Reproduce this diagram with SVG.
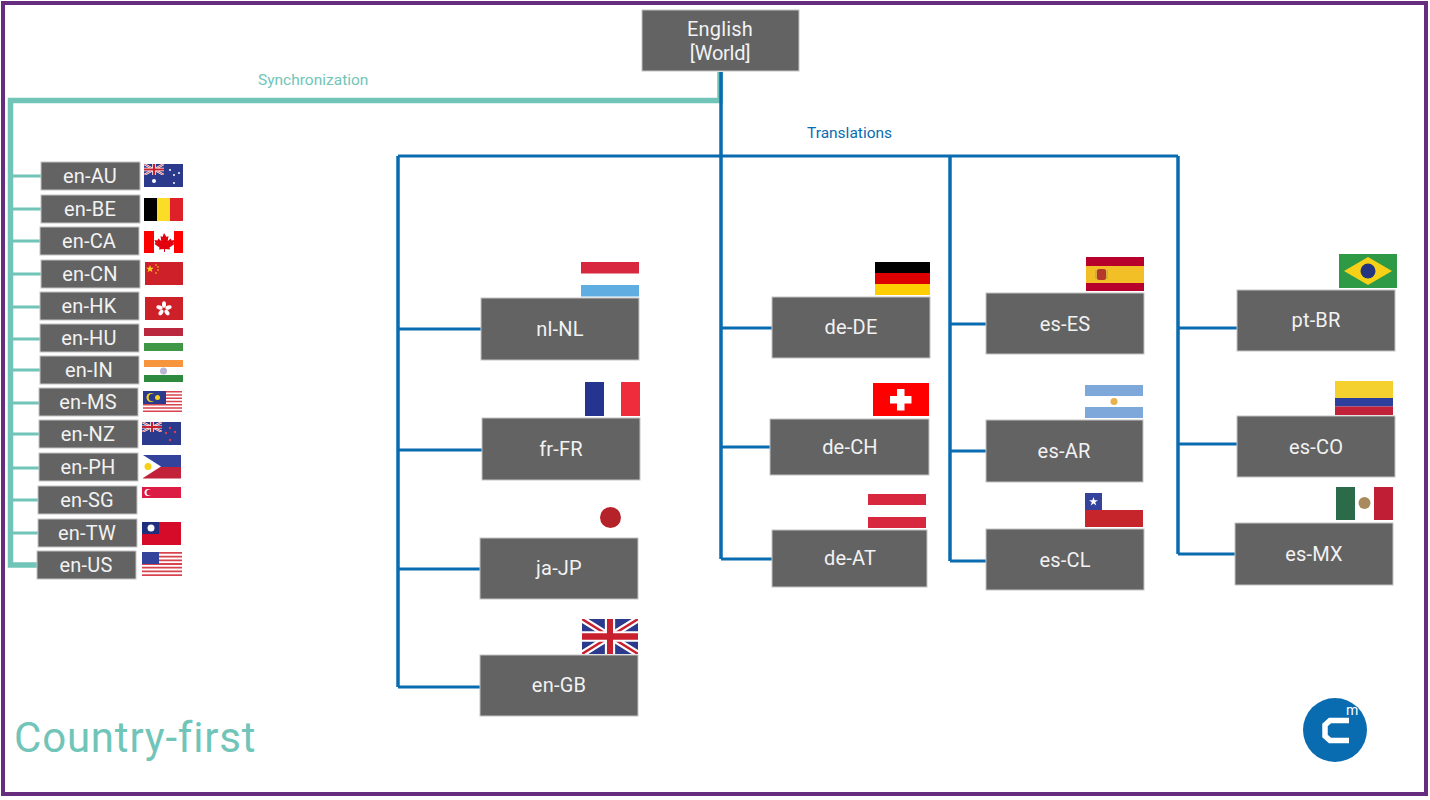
<svg xmlns="http://www.w3.org/2000/svg" width="1430" height="800" viewBox="0 0 1430 800">
<style>
.n{fill:#636363;stroke:#c4c4c4;stroke-width:1}
.t{font-family:Roboto,"Liberation Sans",sans-serif;font-size:20px;fill:#f2f2f2;text-anchor:middle;letter-spacing:.2px}
.tl{fill:none;stroke:#70c5b8;stroke-width:3}
.th{fill:none;stroke:#70c5b8;stroke-width:5.500}
.bl{fill:none;stroke:#0a6cb0;stroke-width:3}
.bv{fill:none;stroke:#0a6cb0;stroke-width:3.500}
.lab{font-family:Roboto,"Liberation Sans",sans-serif;font-size:15.500px}
</style>
<defs>
<symbol id="uj" viewBox="0 0 60 36" preserveAspectRatio="none">
<rect width="60" height="36" fill="#2b3a8c"/>
<path d="M0 0L60 36M60 0L0 36" stroke="#fff" stroke-width="7"/>
<path d="M0 0L60 36M60 0L0 36" stroke="#c8202f" stroke-width="2.500"/>
<path d="M30 0V36M0 18H60" stroke="#fff" stroke-width="11"/>
<path d="M30 0V36M0 18H60" stroke="#c8202f" stroke-width="6.500"/>
</symbol>
<symbol id="stripes" viewBox="0 0 40 13" preserveAspectRatio="none">
<rect width="40" height="13" fill="#fff"/>
<path d="M0 .5H40M0 2.500H40M0 4.500H40M0 6.500H40M0 8.500H40M0 10.500H40M0 12.500H40" stroke="#d8434f" stroke-width="1"/>
</symbol>
</defs>
<rect width="1430" height="800" fill="#fff"/>
<rect x="3" y="3" width="1423" height="791" fill="none" stroke="#662d7f" stroke-width="4"/>
<g id="connectors">
<path class="tl" d="M11 176H41M11 209H41M11 241H40M11 274H41M11 307H40M11 339H40M11 370H40M11 403H39M11 434H39M11 468H39M11 500H38M11 533H38"/>
<path class="th" d="M720 72V100.500H10.500V565H37"/>
<path class="bl" d="M398 687H480M398 329H481M398 450H482M398 569H480M721 328H772M721 447H770M721 559H772M950 561H986M950 324H986M950 451H986M1178 554H1235M1178 328H1237M1178 444H1237M398 156H1178"/>
<path class="bv" d="M721 72V559M398 156V687M950 156V561M1178 156V554"/>
</g>
<text class="lab" x="258" y="85" fill="#70c5b8">Synchronization</text>
<text class="lab" x="807" y="138" fill="#0a6cb0">Translations</text>
<text x="14" y="752" font-family="Roboto,'Liberation Sans',sans-serif" font-size="42" letter-spacing=".8" fill="#70c5b8">Country-first</text>

<g id="node-world"><rect class="n" x="642" y="10" width="157" height="61"/><text class="t" x="720" y="36">English</text><text class="t" x="720" y="60" style="letter-spacing:-.3px">[World]</text></g>

<g id="node-en-AU"><rect class="n" x="41" y="162" width="99" height="28"/><text class="t" x="90" y="183">en-AU</text>
<rect x="144" y="164" width="39" height="23" fill="#2b3a8c"/><use href="#uj" x="144" y="164" width="20" height="11"/><g fill="#fff"><circle cx="154" cy="181" r="2"/><circle cx="170" cy="170" r="1"/><circle cx="174" cy="175" r="1"/><circle cx="179" cy="173" r="1"/><circle cx="174" cy="183" r="1"/></g></g>
<g id="node-en-BE"><rect class="n" x="41" y="195" width="99" height="28"/><text class="t" x="90" y="216">en-BE</text>
<rect x="144" y="198" width="13" height="23" fill="#000"/><rect x="157" y="198" width="13" height="23" fill="#fbdc26"/><rect x="170" y="198" width="13" height="23" fill="#de2128"/></g>
<g id="node-en-CA"><rect class="n" x="40" y="227" width="99" height="28"/><text class="t" x="89" y="248">en-CA</text>
<rect x="144" y="231" width="10" height="22" fill="#f00"/><rect x="174" y="231" width="9" height="22" fill="#f00"/><path d="M164 233l2.500 4 2-1-.8 5 3-2.500.8 2 3-.5-1 3 1 1-5 3.500.5 2-5-.5v3h-1v-3l-5 .5.5-2-5-3.500 1-1-1-3 3 .5.800-2 3 2.500-.8-5 2 1z" fill="#e2000f"/></g>
<g id="node-en-CN"><rect class="n" x="41" y="260" width="99" height="28"/><text class="t" x="90" y="281">en-CN</text>
<rect x="145" y="262" width="38" height="23" fill="#ce2028"/><path d="M150 265l1 2.700 2.800.1-2.200 1.700.8 2.700-2.400-1.600-2.400 1.600.8-2.700-2.200-1.700 2.800-.1z" fill="#f7d117"/><g fill="#f7d117"><circle cx="156" cy="265" r=".8"/><circle cx="158" cy="267" r=".8"/><circle cx="158" cy="270" r=".8"/><circle cx="156" cy="273" r=".8"/></g></g>
<g id="node-en-HK"><rect class="n" x="40" y="292" width="99" height="28"/><text class="t" x="89" y="313">en-HK</text>
<rect x="145" y="297" width="38" height="23" fill="#ce2028"/><g fill="#fff"><ellipse cx="164" cy="304.500" rx="2" ry="3.200"/><ellipse cx="168.500" cy="307.500" rx="2" ry="3.200" transform="rotate(72 168.500 307.500)"/><ellipse cx="167" cy="312.500" rx="2" ry="3.200" transform="rotate(144 167 312.500)"/><ellipse cx="161" cy="312.500" rx="2" ry="3.200" transform="rotate(216 161 312.500)"/><ellipse cx="159.500" cy="307.500" rx="2" ry="3.200" transform="rotate(288 159.500 307.500)"/></g></g>
<g id="node-en-HU"><rect class="n" x="40" y="324" width="99" height="28"/><text class="t" x="89" y="345">en-HU</text>
<rect x="144" y="328" width="39" height="8" fill="#b9283f"/><rect x="144" y="343" width="39" height="8" fill="#409745"/></g>
<g id="node-en-IN"><rect class="n" x="40" y="356" width="99" height="28"/><text class="t" x="89" y="377">en-IN</text>
<rect x="144" y="360" width="39" height="7" fill="#f7953f"/><rect x="144" y="375" width="39" height="7" fill="#2e8a3f"/><circle cx="163.500" cy="371" r="3.500" fill="#b9b6d6"/></g>
<g id="node-en-MS"><rect class="n" x="39" y="388" width="99" height="28"/><text class="t" x="88" y="409">en-MS</text>
<use href="#stripes" x="143" y="391" width="39" height="21"/><rect x="143" y="391" width="23" height="13" fill="#2b3a8c"/><circle cx="151" cy="397.500" r="4.500" fill="#f7d117"/><circle cx="152.500" cy="397.500" r="3.800" fill="#2b3a8c"/><circle cx="157.500" cy="397.500" r="2.500" fill="#f7d117"/></g>
<g id="node-en-NZ"><rect class="n" x="39" y="420" width="99" height="28"/><text class="t" x="88" y="441">en-NZ</text>
<rect x="142" y="422" width="39" height="23" fill="#2b3a8c"/><use href="#uj" x="142" y="422" width="20" height="10"/><g fill="#d8434f"><circle cx="170" cy="428" r="1.200"/><circle cx="175" cy="432" r="1.200"/><circle cx="166" cy="433" r="1.200"/><circle cx="170" cy="440" r="1.200"/></g></g>
<g id="node-en-PH"><rect class="n" x="39" y="453" width="99" height="28"/><text class="t" x="88" y="474">en-PH</text>
<rect x="143" y="455" width="38" height="12" fill="#33439c"/><rect x="143" y="467" width="38" height="11.500" fill="#c2213a"/><path d="M143 455L161 466.500L143 478z" fill="#fff"/><circle cx="148" cy="466.500" r="3.500" fill="#f7d117"/></g>
<g id="node-en-SG"><rect class="n" x="38" y="486" width="99" height="28"/><text class="t" x="87" y="507">en-SG</text>
<rect x="142" y="487" width="39" height="11" fill="#dc1c44"/><circle cx="148" cy="492.500" r="3.500" fill="#fff"/><circle cx="149.500" cy="492.500" r="3" fill="#dc1c44"/></g>
<g id="node-en-TW"><rect class="n" x="38" y="519" width="99" height="28"/><text class="t" x="87" y="540">en-TW</text>
<rect x="142" y="522" width="39" height="23" fill="#d60b2a"/><rect x="142" y="522" width="17" height="12" fill="#1f2f7e"/><circle cx="151" cy="528" r="3.500" fill="#fff"/></g>
<g id="node-en-US"><rect class="n" x="37" y="551" width="99" height="28"/><text class="t" x="86" y="572">en-US</text>
<use href="#stripes" x="142" y="552" width="40" height="24"/><rect x="142" y="552" width="17" height="12" fill="#33439c"/></g>

<g id="node-nl-NL"><rect class="n" x="481" y="298" width="158" height="62"/><text class="t" x="560" y="336">nl-NL</text>
<rect x="581" y="262" width="58" height="11.500" fill="#d8283f"/><rect x="581" y="285" width="58" height="11.500" fill="#60ade2"/></g>
<g id="node-fr-FR"><rect class="n" x="482" y="418" width="158" height="62"/><text class="t" x="561" y="456">fr-FR</text>
<rect x="585" y="382" width="19" height="34" fill="#25358f"/><rect x="621" y="382" width="19" height="34" fill="#ee2c3c"/></g>
<g id="node-ja-JP"><rect class="n" x="480" y="538" width="158" height="61"/><text class="t" x="559" y="575">ja-JP</text>
<circle cx="610.500" cy="517.500" r="10.500" fill="#b5222a"/></g>
<g id="node-en-GB"><rect class="n" x="480" y="655" width="158" height="61"/><text class="t" x="559" y="692">en-GB</text>
<use href="#uj" x="582" y="619" width="56" height="35"/></g>

<g id="node-de-DE"><rect class="n" x="772" y="297" width="158" height="61"/><text class="t" x="851" y="334">de-DE</text>
<rect x="875" y="262" width="55" height="11" fill="#000"/><rect x="875" y="273" width="55" height="11" fill="#dd0000"/><rect x="875" y="284" width="55" height="11" fill="#ffce00"/></g>
<g id="node-de-CH"><rect class="n" x="770" y="419" width="159" height="56"/><text class="t" x="850" y="454">de-CH</text>
<rect x="873" y="383" width="56" height="33" fill="#f00"/><path d="M897 389h7.500v7h7v7.500h-7v7H897v-7h-7V396h7z" fill="#fff"/></g>
<g id="node-de-AT"><rect class="n" x="772" y="530" width="155" height="57"/><text class="t" x="850" y="565">de-AT</text>
<rect x="868" y="494" width="58" height="11" fill="#d8283f"/><rect x="868" y="517" width="58" height="11" fill="#d8283f"/></g>

<g id="node-es-ES"><rect class="n" x="986" y="293" width="158" height="61"/><text class="t" x="1065" y="331">es-ES</text>
<rect x="1086" y="257" width="58" height="34" fill="#b7002b"/><rect x="1086" y="266" width="58" height="17" fill="#f3bf26"/><rect x="1097" y="269" width="9" height="11" rx="2" fill="#b5392a"/><path d="M1096 270v9M1107 270v9" stroke="#b59a5c" stroke-width="1"/></g>
<g id="node-es-AR"><rect class="n" x="986" y="420" width="157" height="62"/><text class="t" x="1064" y="458">es-AR</text>
<rect x="1085" y="385" width="58" height="11" fill="#7fa8da"/><rect x="1085" y="407" width="58" height="11" fill="#7fa8da"/><circle cx="1114" cy="401.500" r="3.500" fill="#e8b04e"/></g>
<g id="node-es-CL"><rect class="n" x="986" y="529" width="158" height="61"/><text class="t" x="1065" y="567">es-CL</text>
<rect x="1085" y="510" width="58" height="17" fill="#c6262b"/><rect x="1085" y="493" width="17" height="17" fill="#33439c"/><path d="M1093.500 497l1.100 3.300h3.400l-2.800 2 1.100 3.300-2.800-2-2.800 2 1.100-3.300-2.800-2h3.400z" fill="#fff"/></g>

<g id="node-pt-BR"><rect class="n" x="1237" y="290" width="158" height="61"/><text class="t" x="1316" y="327">pt-BR</text>
<rect x="1339" y="254" width="58" height="34" fill="#2f9a46"/><path d="M1368 257L1392 271L1368 285L1344 271z" fill="#f7d117"/><circle cx="1368" cy="271" r="7.500" fill="#22357e"/></g>
<g id="node-es-CO"><rect class="n" x="1237" y="416" width="158" height="61"/><text class="t" x="1316" y="454">es-CO</text>
<rect x="1335" y="381" width="58" height="17" fill="#f5d130"/><rect x="1335" y="398" width="58" height="8.500" fill="#2c3f9c"/><rect x="1335" y="406.500" width="58" height="8.500" fill="#c2213a"/></g>
<g id="node-es-MX"><rect class="n" x="1235" y="523" width="158" height="62"/><text class="t" x="1314" y="561">es-MX</text>
<rect x="1336" y="487" width="19" height="33" fill="#2c6b4a"/><rect x="1374" y="487" width="19" height="33" fill="#bf1e35"/><circle cx="1364.500" cy="503" r="6" fill="#a98a5c"/></g>

<g id="logo"><circle cx="1335" cy="730" r="32" fill="#0a6cb0"/>
<path d="M1349 720.500H1330L1325 725V736L1330 740.500H1349" fill="none" stroke="#fff" stroke-width="5.500"/>
<text x="1346" y="715" font-family="Roboto,'Liberation Sans',sans-serif" font-size="14" fill="#fff">m</text></g>
</svg>
